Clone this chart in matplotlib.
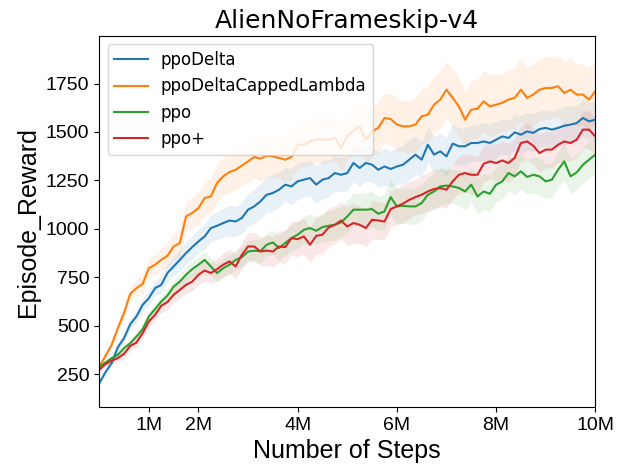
import numpy as np
import matplotlib
matplotlib.use('Agg')
import matplotlib.pyplot as plt
from matplotlib.ticker import FixedLocator

# steps in millions, one reading every 0.125M
steps = np.linspace(0, 10, 81)

ppo_delta = [203, 260, 307, 389, 436, 508, 548, 608, 642,
             694, 711, 772, 806, 840, 875, 906, 935, 961,
             1004, 1016, 1030, 1043, 1038, 1056, 1099, 1116, 1142,
             1176, 1185, 1202, 1228, 1219, 1245, 1254, 1262, 1228,
             1254, 1262, 1288, 1279, 1288, 1340, 1314, 1340, 1331,
             1305, 1322, 1309, 1322, 1331, 1357, 1383, 1357, 1434,
             1383, 1400, 1374, 1440, 1426, 1426, 1443, 1443, 1451,
             1443, 1460, 1477, 1469, 1498, 1486, 1503, 1495, 1515,
             1521, 1512, 1521, 1532, 1538, 1546, 1572, 1555, 1563]
ppo_delta_capped = [289, 344, 401, 488, 565, 665, 694, 716, 797,
                    815, 840, 861, 909, 927, 1064, 1082, 1107, 1159,
                    1167, 1237, 1271, 1293, 1305, 1326, 1348, 1371, 1362,
                    1378, 1374, 1366, 1357, 1371, 1434, 1434, 1451, 1464,
                    1460, 1460, 1469, 1417, 1477, 1508, 1529, 1460, 1503,
                    1521, 1572, 1567, 1538, 1529, 1529, 1538, 1581, 1589,
                    1641, 1667, 1718, 1676, 1632, 1563, 1615, 1620, 1658,
                    1632, 1641, 1650, 1667, 1676, 1718, 1676, 1693, 1718,
                    1727, 1727, 1736, 1701, 1718, 1693, 1693, 1667, 1710]
ppo = [289, 310, 333, 350, 384, 410, 444, 482, 548,
       586, 625, 656, 702, 728, 763, 792, 815, 840,
       806, 772, 797, 815, 840, 854, 883, 887, 885,
       918, 930, 901, 927, 952, 970, 995, 1004, 990,
       1009, 1016, 1021, 1033, 1064, 1099, 1099, 1099, 1102,
       1078, 1090, 1164, 1116, 1119, 1116, 1116, 1133, 1176,
       1193, 1219, 1223, 1219, 1211, 1193, 1228, 1167, 1193,
       1181, 1228, 1245, 1288, 1271, 1297, 1268, 1279, 1271,
       1245, 1254, 1305, 1348, 1271, 1291, 1331, 1357, 1383]
ppo_plus = [272, 302, 320, 333, 355, 396, 413, 462, 522,
            556, 603, 622, 660, 685, 711, 728, 763, 785,
            772, 792, 815, 832, 806, 866, 909, 909, 883,
            888, 883, 909, 906, 952, 947, 961, 918, 964,
            970, 1007, 1021, 1043, 1012, 1030, 1021, 1004, 1047,
            1043, 1038, 1102, 1116, 1130, 1150, 1164, 1176, 1193,
            1206, 1211, 1202, 1245, 1279, 1288, 1279, 1279, 1336,
            1348, 1340, 1353, 1340, 1366, 1443, 1451, 1429, 1391,
            1409, 1409, 1434, 1451, 1443, 1460, 1512, 1512, 1477]

# half width of the shaded band
ppo_delta_sd = [10, 15, 18, 20, 25, 28, 30, 35, 38,
                40, 45, 48, 50, 55, 58, 60, 62, 65,
                70, 72, 75, 80, 78, 82, 85, 88, 90,
                92, 95, 90, 88, 92, 95, 90, 92, 96,
                100, 95, 92, 88, 90, 95, 98, 92, 90,
                94, 96, 92, 95, 100, 105, 98, 95, 92,
                90, 95, 98, 100, 96, 94, 92, 95, 98,
                100, 95, 92, 90, 94, 98, 100, 96, 94,
                92, 95, 98, 100, 95, 92, 96, 98, 95]
ppo_delta_capped_sd = [12, 18, 22, 28, 32, 38, 42, 48, 52,
                       55, 60, 62, 68, 72, 75, 80, 85, 88,
                       90, 95, 98, 100, 105, 102, 108, 110, 112,
                       115, 110, 108, 115, 118, 120, 115, 118, 122,
                       125, 120, 118, 122, 125, 128, 125, 122, 128,
                       130, 128, 132, 135, 130, 138, 142, 140, 145,
                       150, 148, 145, 150, 155, 150, 148, 152, 158,
                       160, 155, 150, 155, 160, 165, 160, 158, 162,
                       165, 160, 158, 162, 165, 160, 158, 162, 160]
ppo_sd = [10, 12, 15, 18, 20, 22, 25, 25, 28,
          30, 32, 35, 35, 38, 40, 40, 42, 45,
          45, 48, 50, 50, 52, 55, 55, 58, 60,
          60, 62, 65, 65, 68, 70, 70, 72, 75,
          75, 78, 80, 80, 82, 85, 85, 88, 90,
          88, 90, 92, 90, 88, 92, 95, 92, 90,
          92, 95, 90, 88, 92, 95, 90, 92, 95,
          92, 90, 88, 92, 95, 92, 90, 92, 95,
          90, 88, 92, 95, 92, 90, 92, 95, 92]
ppo_plus_sd = [10, 12, 15, 18, 20, 22, 25, 28, 30,
               32, 35, 38, 40, 42, 45, 48, 50, 52,
               55, 58, 60, 62, 65, 68, 70, 72, 75,
               78, 80, 82, 85, 88, 90, 92, 90, 95,
               98, 100, 98, 95, 100, 102, 98, 95, 100,
               98, 95, 92, 95, 98, 95, 92, 95, 98,
               100, 98, 95, 92, 95, 98, 100, 98, 95,
               92, 95, 98, 100, 98, 95, 92, 95, 98,
               95, 92, 95, 98, 95, 92, 95, 98, 95]

tick_pos = [1, 2, 4, 6, 8, 10]
tick_labels = ['1M', '2M', '4M', '6M', '8M', '10M']

series = [('ppoDelta', ppo_delta, ppo_delta_sd, 'tab:blue'),
          ('ppoDeltaCappedLambda', ppo_delta_capped, ppo_delta_capped_sd, 'tab:orange'),
          ('ppo', ppo, ppo_sd, 'tab:green'),
          ('ppo+', ppo_plus, ppo_plus_sd, 'tab:red')]

fig = plt.figure(figsize=(6.24, 4.74), dpi=100)
ax = fig.add_axes([0.159, 0.141, 0.795, 0.783])

for name, mean, sd, col in series:
    mean = np.array(mean)
    sd = np.array(sd)
    ax.plot(steps, mean, color=col, lw=1.5, label=name)
    ax.fill_between(steps, mean - sd, mean + sd, color=col, alpha=0.1, lw=0)

ax.set_xlim(0, 10)
ax.set_ylim(80, 1995)
ax.xaxis.set_major_locator(FixedLocator(tick_pos))
ax.set_xticklabels(tick_labels)
ax.set_yticks([250, 500, 750, 1000, 1250, 1500, 1750])
for lab in ax.get_xticklabels() + ax.get_yticklabels():
    lab.set_fontfamily('Liberation Sans')
    lab.set_fontsize(14)

ax.set_title('AlienNoFrameskip-v4', fontsize=18, fontfamily='DejaVu Sans')
ax.set_xlabel('Number of Steps', fontsize=18, fontfamily='Liberation Sans')
ax.set_ylabel('Episode_Reward', fontsize=18, fontfamily='Liberation Sans')
ax.legend(loc='upper left', fontsize=12)

fig.savefig('out.png', dpi=100)
